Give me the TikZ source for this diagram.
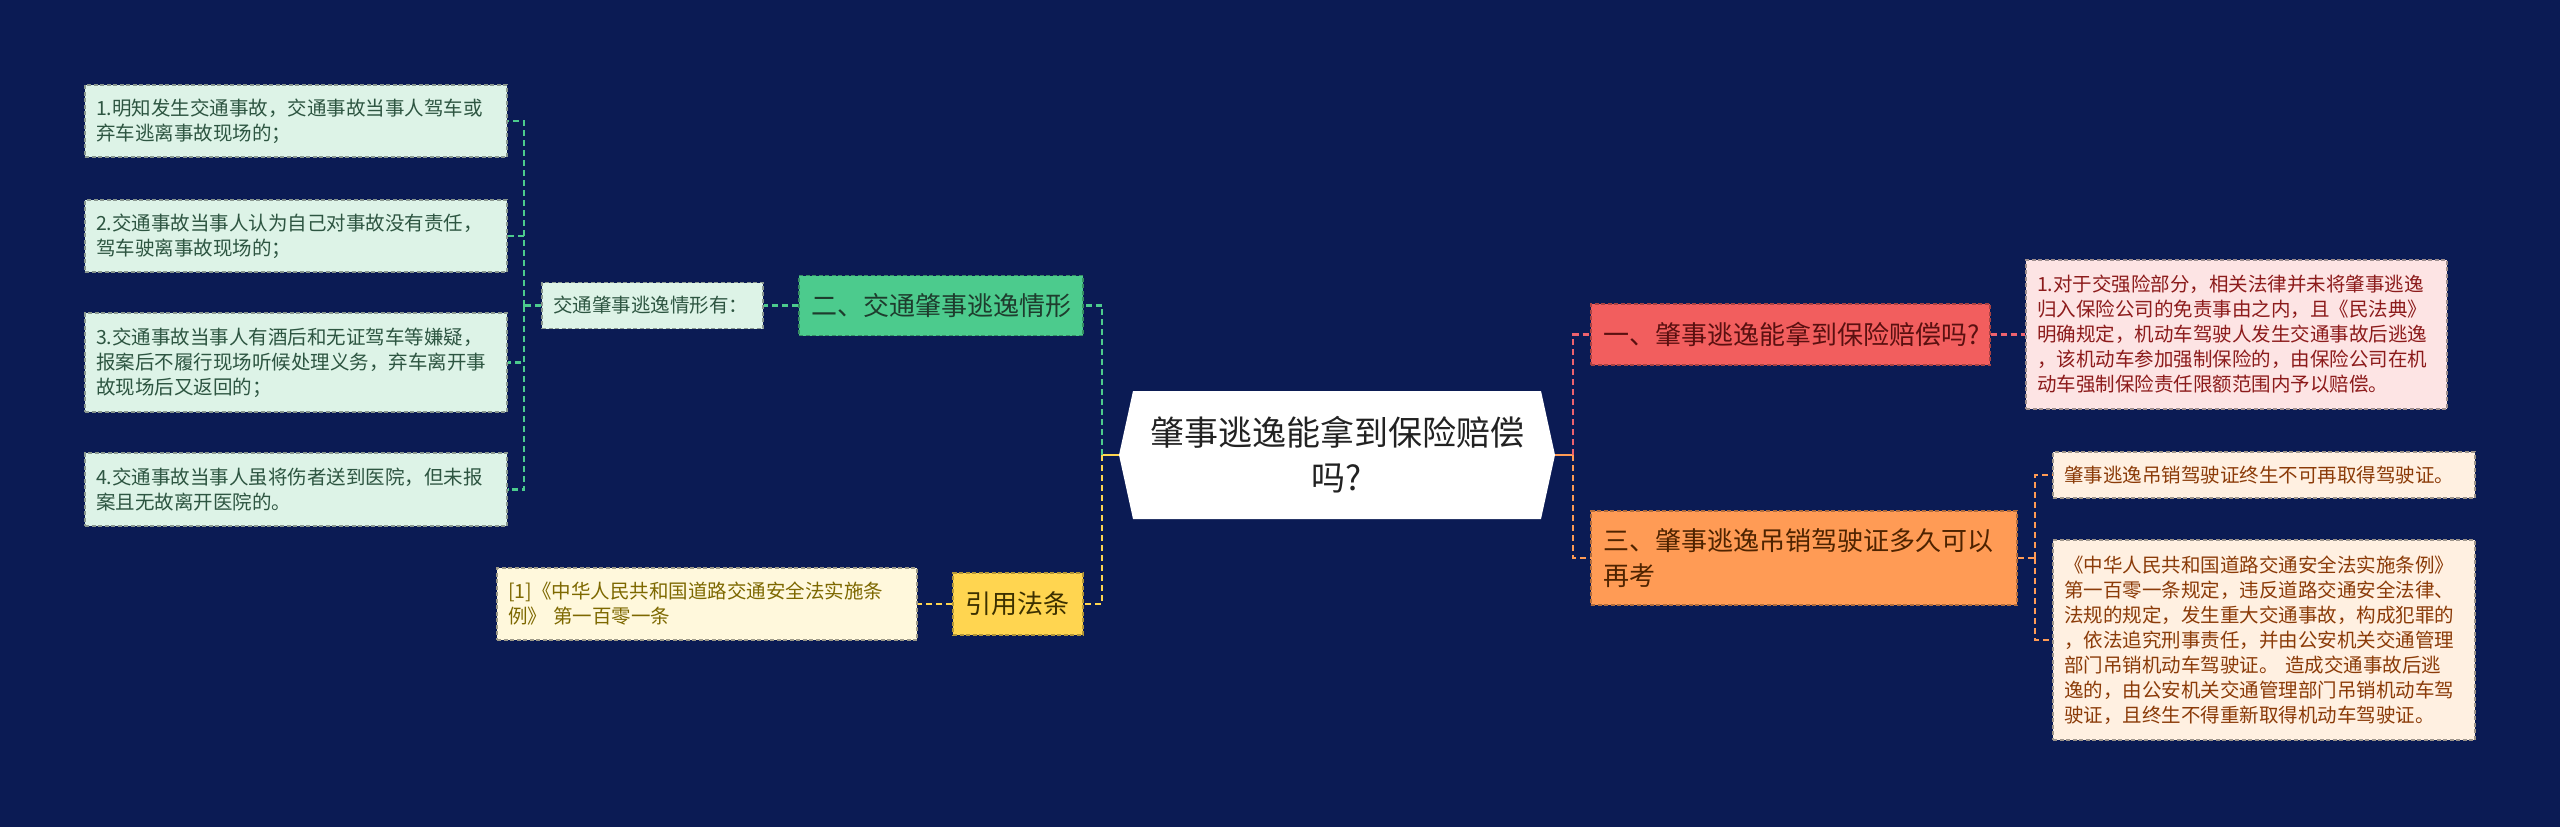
\documentclass[tikz,border=0pt]{standalone}
\usepackage{fontspec}
\setmainfont{Noto Sans CJK SC}
\usetikzlibrary{calc}
\definecolor{bg}{RGB}{11,27,84}
\definecolor{gmain}{RGB}{76,203,141}
\definecolor{gmaint}{RGB}{30,60,45}
\definecolor{gleaf}{RGB}{221,243,231}
\definecolor{gleaft}{RGB}{45,85,65}
\definecolor{ymain}{RGB}{255,213,80}
\definecolor{ymaint}{RGB}{60,48,0}
\definecolor{yleaf}{RGB}{255,248,220}
\definecolor{yleaft}{RGB}{125,104,0}
\definecolor{rmain}{RGB}{242,94,94}
\definecolor{rmaint}{RGB}{90,16,16}
\definecolor{rleaf}{RGB}{253,228,228}
\definecolor{rleaft}{RGB}{140,27,27}
\definecolor{rline}{RGB}{238,98,110}
\definecolor{omain}{RGB}{255,155,85}
\definecolor{omaint}{RGB}{78,35,0}
\definecolor{oleaf}{RGB}{255,240,225}
\definecolor{oleaft}{RGB}{139,59,8}
\definecolor{ctext}{RGB}{34,34,34}
\tikzset{
  boxbase/.style={rectangle, inner xsep=11pt, inner ysep=0pt, align=left,
    dash pattern=on 4pt off 2.5pt, line width=1.4pt},
  leafbox/.style={boxbase, font=\fontsize{19.5}{25}\selectfont},
  mainbox/.style={boxbase, inner xsep=12pt, font=\fontsize{26}{35}\selectfont},
  gleafbox/.style={leafbox, fill=gleaf, draw=gleaf!62!black, text=gleaft},
  yleafbox/.style={leafbox, fill=yleaf, draw=yleaf!62!black, text=yleaft},
  rleafbox/.style={leafbox, fill=rleaf, draw=rleaf!62!black, text=rleaft},
  oleafbox/.style={leafbox, fill=oleaf, draw=oleaf!62!black, text=oleaft},
  conn/.style={line width=2.4pt, dash pattern=on 6pt off 4pt},
  gconn/.style={conn, draw=gmain},
  yconn/.style={conn, draw=ymain},
  rconn/.style={conn, draw=rline},
  oconn/.style={conn, draw=omain},
}
\begin{document}
\begin{tikzpicture}[x=1pt,y=-1pt]
\useasboundingbox (0,0) rectangle (2560,827);
\fill[bg] (0,0) rectangle (2560,827);

% center
\coordinate (cc) at (1337,455);
\fill[white] ($(cc)+(-204,-64)$) -- ($(cc)+(204,-64)$) -- ($(cc)+(218,0)$)
  -- ($(cc)+(204,64)$) -- ($(cc)+(-204,64)$) -- ($(cc)+(-218,0)$) -- cycle;
\node[rectangle, inner sep=0pt, minimum width=436pt, minimum height=128pt,
  align=center, text=ctext, font=\fontsize{34}{45}\selectfont] (c) at (cc)
  {肇事逃逸能拿到保险赔偿\\吗?};

% left branch
\node[mainbox, fill=gmain, draw=gmain!70!black, text=gmaint, text width=260pt,
  minimum height=60pt] (g) at (941,305.5) {二、交通肇事逃逸情形};
\node[gleafbox, text width=199pt, minimum height=46pt] (gi) at (652.5,305.5)
  {交通肇事逃逸情形有：};
\node[gleafbox, text width=400pt, minimum height=72pt] (L1) at (296,121)
  {1.明知发生交通事故，交通事故当事人驾车或\\弃车逃离事故现场的；};
\node[gleafbox, text width=400pt, minimum height=72pt] (L2) at (296,236)
  {2.交通事故当事人认为自己对事故没有责任，\\驾车驶离事故现场的；};
\node[gleafbox, text width=400pt, minimum height=99pt] (L3) at (296,362.5)
  {3.交通事故当事人有酒后和无证驾车等嫌疑，\\报案后不履行现场听候处理义务，弃车离开事\\故现场后又返回的；};
\node[gleafbox, text width=400pt, minimum height=73pt] (L4) at (296,489.5)
  {4.交通事故当事人虽将伤者送到医院，但未报\\案且无故离开医院的。};

\node[mainbox, fill=ymain, draw=ymain!70!black, text=ymaint, text width=106pt,
  minimum height=62pt] (y) at (1018,604) {引用法条};
\node[yleafbox, text width=398pt, minimum height=72pt] (law) at (707,604)
  {[1]《中华人民共和国道路交通安全法实施条\\例》~第一百零一条};

% right branch
\node[mainbox, fill=rmain, draw=rmain!70!black, text=rmaint, text width=375pt,
  minimum height=61pt] (r) at (1790.5,334.5) {一、肇事逃逸能拿到保险赔偿吗?};
\node[rleafbox, text width=399pt, minimum height=149pt] (pk) at (2236.5,334.5)
  {1.对于交强险部分，相关法律并未将肇事逃逸\\归入保险公司的免责事由之内，且《民法典》\\明确规定，机动车驾驶人发生交通事故后逃逸\\，该机动车参加强制保险的，由保险公司在机\\动车强制保险责任限额范围内予以赔偿。};

\node[mainbox, fill=omain, draw=omain!70!black, text=omaint, text width=402pt,
  minimum height=94pt] (o) at (1804,558) {三、肇事逃逸吊销驾驶证多久可以\\再考};
\node[oleafbox, text width=400pt, minimum height=46pt] (O1) at (2264,475)
  {肇事逃逸吊销驾驶证终生不可再取得驾驶证。};
\node[oleafbox, text width=400pt, minimum height=200pt] (O2) at (2264,640)
  {《中华人民共和国道路交通安全法实施条例》\\第一百零一条规定，违反道路交通安全法律、\\法规的规定，发生重大交通事故，构成犯罪的\\，依法追究刑事责任，并由公安机关交通管理\\部门吊销机动车驾驶证。~造成交通事故后逃\\逸的，由公安机关交通管理部门吊销机动车驾\\驶证，且终生不得重新取得机动车驾驶证。};

% connectors left
\coordinate (lb) at (1102,455);
\coordinate (lb2) at (524,305.5);
\coordinate (rb) at (1573,455);
\coordinate (ob) at (2035,558);

\draw[line width=2.4pt, ymain] (c.west) -- (lb);
\draw[gconn] (lb) |- (g.east);
\draw[yconn] (lb) |- (y.east);
\draw[gconn] (g.west) -- (gi.east);
\draw[gconn] (gi.west) -- (lb2);
\draw[gconn] (lb2) |- (L1.east);
\draw[gconn] (lb2) |- (L2.east);
\draw[gconn] (lb2) |- (L3.east);
\draw[gconn] (lb2) |- (L4.east);
\draw[yconn] (y.west) -- (law.east);

% connectors right
\draw[line width=2.4pt, omain] (c.east) -- (rb);
\draw[rconn] (rb) |- (r.west);
\draw[oconn] (rb) |- (o.west);
\draw[rconn] (r.east) -- (pk.west);
\draw[oconn] (o.east) -- (ob);
\draw[oconn] (ob) |- (O1.west);
\draw[oconn] (ob) |- (O2.west);
\end{tikzpicture}
\end{document}
